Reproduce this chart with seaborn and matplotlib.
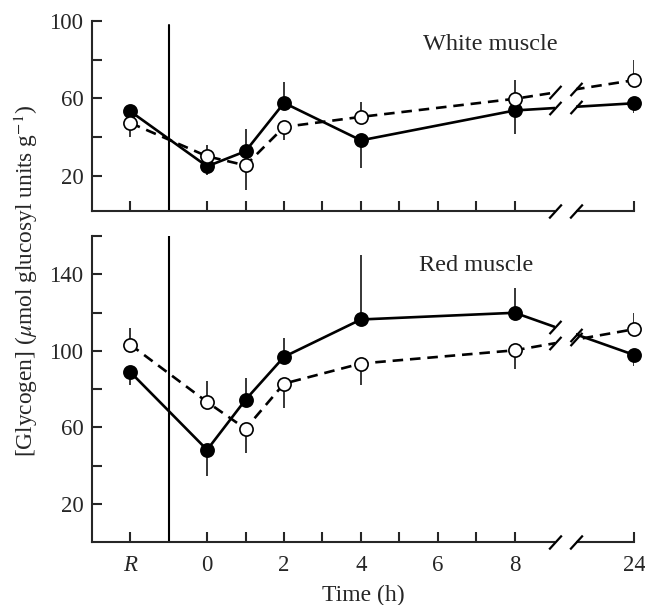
import numpy as np
import pandas as pd
import seaborn as sns
import matplotlib
matplotlib.use("Agg")
import matplotlib.pyplot as plt
from matplotlib.patches import Rectangle

# sampling times (R = resting)
times = ['R', 0, 1, 2, 4, 8, 24]
tick_times = ['R', 0, 1, 2, 3, 4, 5, 6, 7, 8, 24]
tick_labels = ['R', '0', '', '2', '', '4', '', '6', '', '8', '24']

# white muscle
white_filled = [53.4, 25.0, 32.8, 57.7, 38.4, 53.8, 57.5]
white_filled_err = [np.nan, 20.4, 44.5, 68.5, 24.4, 41.5, 52.4]
white_open = [47.4, 30.2, 25.5, 45.3, 50.5, 59.8, 69.4]
white_open_err = [40.0, 35.9, 12.6, 38.4, 58.2, 69.4, 79.7]

# red muscle
red_filled = [89.0, 48.3, 74.5, 96.9, 116.4, 119.9, 97.9]
red_filled_err = [82.0, 34.4, 85.9, 106.5, 150.0, 132.6, 92.1]
red_open = [103.3, 73.3, 59.3, 82.9, 93.4, 100.3, 111.3]
red_open_err = [112.2, 84.1, 46.6, 70.2, 82.4, 90.4, 119.9]


def axis_pos(t):
    # broken time axis: R sits left of 0, 24 h after the break
    if t == 'R':
        return -2.0
    if t == 24:
        return 11.1
    return float(t)


x = np.array([axis_pos(t) for t in times])
brk = (9.05, 9.6)

sns.set_style("ticks")
plt.rcParams['font.family'] = ['Liberation Serif', 'DejaVu Serif']
plt.rcParams['mathtext.fontset'] = 'stix'

fig = plt.figure(figsize=(6.45, 6.05), dpi=100)
ax_top = fig.add_axes([0.1422, 0.6512, 0.8408, 0.3145])
ax_bot = fig.add_axes([0.1422, 0.1036, 0.8408, 0.5063])

slash = [(-1, -1.1), (1, 1.1)]


def draw_panel(ax, filled, filled_err, opened, opened_err, ylim, yticks, ylabels):
    df = pd.DataFrame({'x': x, 'filled': filled, 'open': opened})
    # one-sided error bars
    ax.vlines(x, filled, filled_err, color='black', lw=1.1, zorder=1)
    ax.vlines(x, opened, opened_err, color='black', lw=1.1, zorder=1)
    sns.lineplot(data=df, x='x', y='filled', ax=ax, color='black', lw=1.9,
                 marker='o', markersize=9.5, markerfacecolor='black',
                 markeredgecolor='black', markeredgewidth=1.2,
                 clip_on=False, zorder=3)
    sns.lineplot(data=df, x='x', y='open', ax=ax, color='black', lw=1.9,
                 linestyle=(0, (4, 2.6)), marker='o', markersize=9.5,
                 markerfacecolor='white', markeredgecolor='black',
                 markeredgewidth=1.2, clip_on=False, zorder=4)

    ax.set_xlim(-3, 11.1)
    ax.set_ylim(*ylim)
    ax.set_yticks(yticks)
    ax.set_yticklabels(ylabels)
    ax.set_xticks([axis_pos(t) for t in tick_times])
    ax.set_xlabel('')
    ax.set_ylabel('')
    sns.despine(ax=ax)
    for sp in ['left', 'bottom']:
        ax.spines[sp].set_linewidth(1.5)
    ax.tick_params(direction='in', length=7, width=1.5, labelsize=16.5, pad=6)
    ax.tick_params(axis='x', pad=9)

    # axis break: blank gap plus slashes on the axis and on each line
    ax.add_patch(Rectangle((brk[0], -0.02), brk[1] - brk[0], 1.04,
                           transform=ax.get_xaxis_transform(),
                           facecolor='white', edgecolor='none',
                           clip_on=False, zorder=5))
    for b in brk:
        ys = [np.interp(b, x, filled), np.interp(b, x, opened)]
        ax.plot([b, b], ys, ls='none', marker=slash, markersize=9.5,
                markeredgewidth=1.6, color='black', zorder=6)
        ax.plot([b], [0], ls='none', marker=slash, markersize=10,
                markeredgewidth=1.6, color='black', zorder=6,
                transform=ax.get_xaxis_transform(), clip_on=False)


draw_panel(ax_top, white_filled, white_filled_err, white_open, white_open_err,
           (2, 100), [20, 40, 60, 80, 100], ['20', '', '60', '', '100'])
draw_panel(ax_bot, red_filled, red_filled_err, red_open, red_open_err,
           (0, 160), [20, 40, 60, 80, 100, 120, 140, 160],
           ['20', '', '60', '', '100', '', '140', ''])

ax_top.axvline(-1, ymax=0.98, color='black', lw=1.5, zorder=2)
ax_bot.axvline(-1, color='black', lw=1.5, zorder=2)

ax_top.set_xticklabels([])
ax_bot.set_xticklabels(tick_labels)
ax_bot.get_xticklabels()[0].set_fontstyle('italic')

ax_top.text(0.61, 0.875, 'White muscle', transform=ax_top.transAxes,
            fontsize=17.5, ha='left', va='center', zorder=8)
ax_bot.text(0.603, 0.905, 'Red muscle', transform=ax_bot.transAxes,
            fontsize=17.5, ha='left', va='center', zorder=8)

fig.text(363 / 645, 1 - 595 / 605, 'Time (h)', fontsize=17,
         ha='center', va='center')
fig.text(26 / 645, 1 - 281 / 605,
         r'[Glycogen] ($\mu$mol glucosyl units g$^{-1}$)',
         fontsize=16.8, rotation=90, ha='center', va='center')

fig.savefig('out.png', dpi=100)
